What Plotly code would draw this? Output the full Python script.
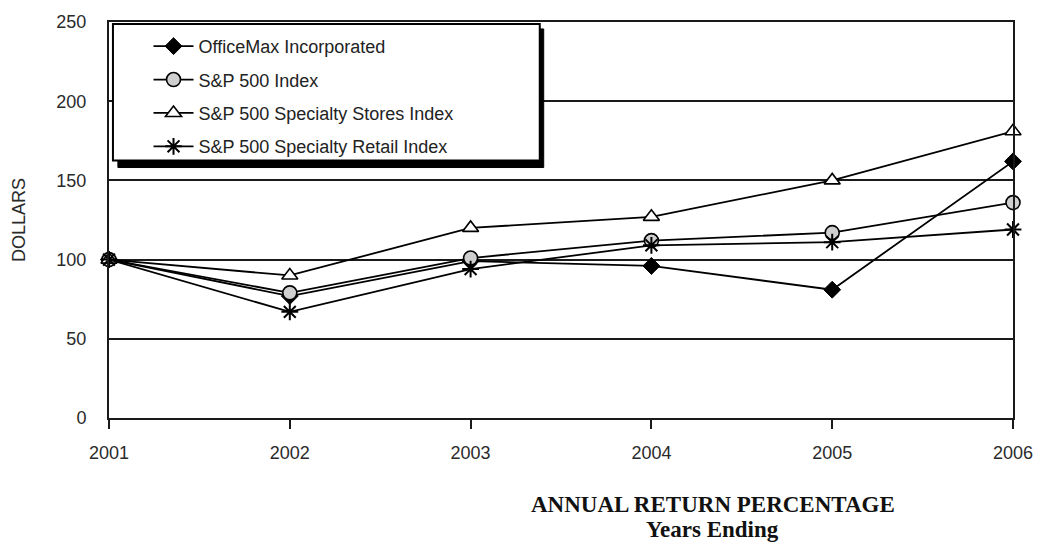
import plotly.graph_objects as go

years = [2001, 2002, 2003, 2004, 2005, 2006]
officemax = [100, 77, 99, 96, 81, 162]
sp500 = [100, 79, 101, 112, 117, 136]
specialty_stores = [100, 90, 120, 127, 150, 181]
specialty_retail = [100, 67, 94, 109, 111, 119]
y_ticks = [0, 50, 100, 150, 200, 250]

# plot area in figure pixels
PX0, PX1, PY0, PY1 = 109, 1024, 18, 418


def px(x):
    return (x - PX0) / (PX1 - PX0)


def py(y):
    return (PY1 - y) / (PY1 - PY0)


fig = go.Figure()

series = [
    ("OfficeMax Incorporated", officemax, dict(symbol="diamond", size=13, color="black", line=dict(color="black", width=1))),
    ("S&P 500 Index", sp500, dict(symbol="circle", size=14, color="#cfcfcf", line=dict(color="black", width=1.6))),
    ("S&P 500 Specialty Stores Index", specialty_stores, dict(symbol="triangle-up", size=14, color="white", line=dict(color="black", width=1.6))),
    ("S&P 500 Specialty Retail Index", specialty_retail, dict(symbol="asterisk", size=14, color="black", line=dict(color="black", width=2))),
]
for i, (name, vals, mk) in enumerate(series):
    fig.add_trace(go.Scatter(
        x=years, y=vals, name=name, mode="lines+markers",
        line=dict(color="black", width=1.8), marker=mk, cliponaxis=False,
        legendgroup=f"g{i}",
    ))

# legend box with drop shadow
fig.add_shape(type="rect", xref="paper", yref="paper",
              x0=px(118), x1=px(549), y0=py(165), y1=py(25),
              fillcolor="black", line=dict(color="black", width=1), layer="above")
fig.add_shape(type="rect", xref="paper", yref="paper",
              x0=px(113), x1=px(545), y0=py(158), y1=py(20),
              fillcolor="white", line=dict(color="black", width=2), layer="above")

fig.update_layout(
    width=1045, height=544,
    margin=dict(l=PX0, r=1045 - PX1, t=PY0, b=544 - PY1),
    plot_bgcolor="white", paper_bgcolor="white",
    font=dict(family="Liberation Sans, Arial, sans-serif", size=18, color="#2a2a2a"),
    showlegend=True,
    legend=dict(
        x=px(149), y=py(24), xanchor="left", yanchor="top",
        bgcolor="rgba(0,0,0,0)", borderwidth=0,
        font=dict(size=18, color="#222"),
        traceorder="grouped", tracegroupgap=7, itemwidth=40,
    ),
    xaxis=dict(
        range=[2001, 2006], tickmode="array", tickvals=years,
        ticktext=[str(y) for y in years],
        showgrid=False, zeroline=False,
        showline=True, linecolor="#1a1a1a", linewidth=2, mirror=True,
        ticks="outside", ticklen=9, tickwidth=2, tickcolor="#1a1a1a",
        ticklabelstandoff=8,
    ),
    yaxis=dict(
        range=[0, 250], tickmode="array", tickvals=y_ticks,
        showgrid=True, gridcolor="#1a1a1a", gridwidth=2,
        zeroline=False, showline=True, linecolor="#1a1a1a", linewidth=2, mirror=True,
        ticks="", ticklabelstandoff=17,
    ),
    annotations=[
        dict(text="DOLLARS", xref="paper", yref="paper", x=px(18), y=0.5,
             textangle=-90, showarrow=False, font=dict(size=18, color="#2a2a2a"),
             xanchor="center", yanchor="middle"),
        dict(text="<b>ANNUAL RETURN PERCENTAGE</b>", xref="paper", yref="paper",
             x=px(720), y=py(505), showarrow=False,
             font=dict(family="Liberation Serif, Times New Roman, serif", size=23, color="#111"),
             xanchor="center", yanchor="middle"),
        dict(text="<b>Years Ending</b>", xref="paper", yref="paper",
             x=px(720), y=py(531), showarrow=False,
             font=dict(family="Liberation Serif, Times New Roman, serif", size=23, color="#111"),
             xanchor="center", yanchor="middle"),
    ],
)

fig.write_html(
    "out.html",
    config={"displayModeBar": False},
    post_script="document.body.style.margin='0';document.body.style.overflow='hidden';",
)
